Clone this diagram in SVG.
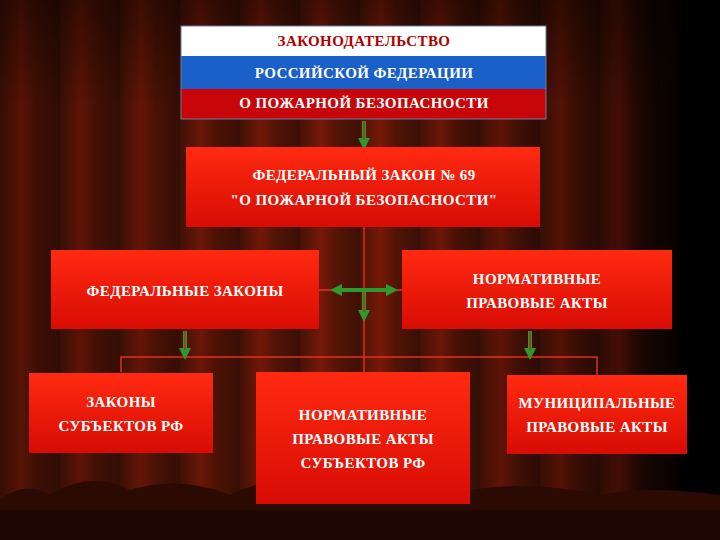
<svg xmlns="http://www.w3.org/2000/svg" width="720" height="540" viewBox="0 0 720 540">
<defs>
<linearGradient id="cur" x1="0" x2="1" y1="0" y2="0">
<stop offset="0" stop-color="#4a1406"/><stop offset="0.35" stop-color="#7a1a08"/><stop offset="0.6" stop-color="#561506"/><stop offset="1" stop-color="#3e1005"/>
</linearGradient>
<pattern id="stripes" width="60" height="540" patternUnits="userSpaceOnUse">
<rect width="60" height="540" fill="url(#cur)"/>
</pattern>
<linearGradient id="shade" x1="0" x2="1">
<stop offset="0" stop-color="#000" stop-opacity="0.3"/><stop offset="0.5" stop-color="#000" stop-opacity="0"/><stop offset="0.85" stop-color="#000" stop-opacity="0.4"/><stop offset="0.95" stop-color="#000" stop-opacity="1"/>
</linearGradient>
<linearGradient id="vshade" x1="0" x2="0" y1="0" y2="1">
<stop offset="0" stop-color="#000" stop-opacity="0.4"/><stop offset="0.2" stop-color="#000" stop-opacity="0"/>
</linearGradient>
<linearGradient id="box" x1="0" x2="0" y1="0" y2="1">
<stop offset="0" stop-color="#ff2a10"/><stop offset="1" stop-color="#d80c04"/>
</linearGradient>
<marker id="ah" viewBox="0 0 10 10" refX="5" refY="5" markerWidth="3" markerHeight="3" orient="auto">
<path d="M0,0 L10,5 L0,10 Z" fill="#2e9a2e"/>
</marker>
<style>
.b{fill:url(#box)}
.t{font-family:"Liberation Serif",serif;font-weight:bold;font-size:15px;letter-spacing:0.4px;fill:#fff;text-anchor:middle;}
.c{stroke:#e03020;stroke-width:1.5;fill:none}
.a{stroke:#2e9a2e;stroke-width:4;fill:none;marker-end:url(#ah)}
.ai{stroke:#c02010;stroke-width:1.2;fill:none}
</style>
</defs>
<rect width="720" height="540" fill="url(#stripes)"/>
<rect width="720" height="540" fill="url(#shade)"/>
<rect width="720" height="540" fill="url(#vshade)"/>
<path d="M0,500 Q25,480 50,495 Q90,470 130,490 Q180,475 230,495 Q280,470 330,490 Q400,475 470,490 Q530,480 600,495 Q650,485 720,495 L720,540 L0,540 Z" fill="#2a0a03"/>
<rect x="0" y="510" width="720" height="30" fill="#1e0602"/>
<g id="connectors">
<path class="c" d="M364,227 V375"/>
<path class="c" d="M121,372 V357 H597 V375"/>
<path class="c" d="M319,290 H402"/>
<path class="a" d="M364,121 V144"/><path class="ai" d="M364,121 V140"/>
<path class="a" d="M364,290 H336"/><path class="a" d="M364,290 H392"/>
<path class="a" d="M364,290 V316"/><path class="ai" d="M364,292 V312"/>
<path class="a" d="M185,331 V354"/><path class="ai" d="M185,331 V350"/>
<path class="a" d="M530,331 V354"/><path class="ai" d="M530,331 V350"/>
</g>
<g id="n0">
<rect x="181" y="26" width="365" height="30" fill="#fff"/>
<rect x="181" y="56" width="365" height="33" fill="#1a60c8"/>
<rect x="181" y="89" width="365" height="30" fill="#c8060a"/>
<rect x="181" y="26" width="365" height="93" fill="none" stroke="#6a7aa0" stroke-width="1"/>
<text class="t" x="364" y="46" style="fill:#b00000">ЗАКОНОДАТЕЛЬСТВО</text>
<text class="t" x="364" y="78">РОССИЙСКОЙ ФЕДЕРАЦИИ</text>
<text class="t" x="364" y="108">О ПОЖАРНОЙ БЕЗОПАСНОСТИ</text>
</g>
<g id="n1"><rect class="b" x="186" y="147" width="354" height="80"/>
<text class="t" x="364" y="180">ФЕДЕРАЛЬНЫЙ ЗАКОН № 69</text>
<text class="t" x="364" y="205">"О ПОЖАРНОЙ БЕЗОПАСНОСТИ"</text></g>
<g id="n2"><rect class="b" x="51" y="250" width="268" height="79"/>
<text class="t" x="185" y="296">ФЕДЕРАЛЬНЫЕ ЗАКОНЫ</text></g>
<g id="n3"><rect class="b" x="402" y="250" width="270" height="79"/>
<text class="t" x="537" y="284">НОРМАТИВНЫЕ</text>
<text class="t" x="537" y="308">ПРАВОВЫЕ АКТЫ</text></g>
<g id="n4"><rect class="b" x="29" y="373" width="184" height="80"/>
<text class="t" x="121" y="407">ЗАКОНЫ</text>
<text class="t" x="121" y="431">СУБЪЕКТОВ РФ</text></g>
<g id="n5"><rect class="b" x="256" y="372" width="214" height="132"/>
<text class="t" x="363" y="420">НОРМАТИВНЫЕ</text>
<text class="t" x="363" y="444">ПРАВОВЫЕ АКТЫ</text>
<text class="t" x="363" y="468">СУБЪЕКТОВ РФ</text></g>
<g id="n6"><rect class="b" x="507" y="375" width="180" height="79"/>
<text class="t" x="597" y="408">МУНИЦИПАЛЬНЫЕ</text>
<text class="t" x="597" y="432">ПРАВОВЫЕ АКТЫ</text></g>
</svg>
